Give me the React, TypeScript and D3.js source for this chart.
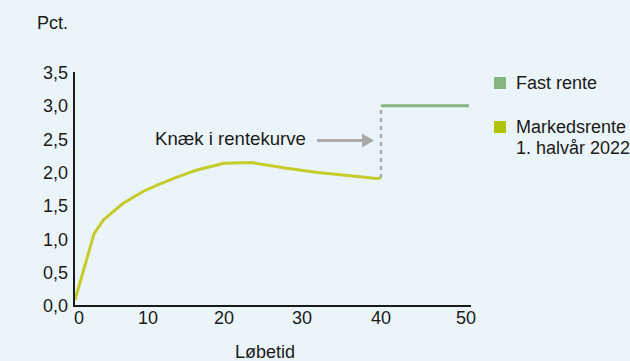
import React from "react";
import * as d3 from "d3";

// Markedsrente (yield curve), maturity in years -> percent
const maturities = [0, 2.6, 3.9, 6.6, 9.4, 11.6, 14, 16.2, 20, 23.5, 27.8, 32, 36.4, 39.4, 40];
const marketRates = [0.09, 1.08, 1.29, 1.54, 1.72, 1.83, 1.94, 2.03, 2.14, 2.15, 2.07, 2.0, 1.95, 1.91, 1.92];

// Fast rente beyond the kink
const fixedMaturities = [40, 50];
const fixedRates = [3.0, 3.0];

const xTicks = [0, 10, 20, 30, 40, 50];
const yTicks = [0, 0.5, 1, 1.5, 2, 2.5, 3, 3.5];

const legendItems = [
  { label: ["Fast rente"], color: "#86b57f" },
  { label: ["Markedsrente", "1. halvår 2022"], color: "#afc300" },
];

const W = 630;
const H = 361;
const FONT = "'Liberation Sans', Arial, sans-serif";

export default function App() {
  const x = d3
    .scaleLinear()
    .domain([0, 10, 20, 30, 40, 50])
    .range([75, 148, 224, 302, 381, 469]);
  const y = d3.scaleLinear().domain([0, 3.5]).range([306, 72.5]);

  const line = d3
    .line<[number, number]>()
    .x((d) => x(d[0]))
    .y((d) => y(d[1]));

  const marketPts = maturities.map((m, i) => [m, marketRates[i]] as [number, number]);
  const fixedPts = fixedMaturities.map((m, i) => [m, fixedRates[i]] as [number, number]);

  const kinkX = x(40);
  const axisLeft = 74;
  const axisRight = 471;
  const arrowY = 140.5;

  return (
    <svg
      width={W}
      height={H}
      style={{ position: "absolute", left: 0, top: 0, background: "#ebf4f8" }}
      fontFamily={FONT}
    >
      <rect width={W} height={H} fill="#ebf4f8" />
      <text x={37} y={23} dy="0.36em" fontSize={18} fill="#1a1a1a">Pct.</text>

      {/* y tick labels */}
      {yTicks.map((t) => (
        <text
          key={t}
          x={68}
          y={y(t)}
          dy="0.36em"
          textAnchor="end"
          fontSize={18}
          fill="#1a1a1a"
        >
          {d3.format(".1f")(t).replace(".", ",")}
        </text>
      ))}

      {/* x tick labels */}
      {xTicks.map((t, i) => (
        <text
          key={t}
          x={x(t) + (i === 0 ? 4 : i === 5 ? -3 : 0)}
          y={318}
          dy="0.36em"
          textAnchor="middle"
          fontSize={18}
          fill="#1a1a1a"
        >
          {t}
        </text>
      ))}
      <text x={265} y={352} dy="0.36em" textAnchor="middle" fontSize={18} fill="#1a1a1a">
        Løbetid
      </text>

      {/* series */}
      <path d={line(marketPts) ?? ""} fill="none" stroke="#c6cb2c" strokeWidth={3} strokeLinejoin="round" />
      <line
        x1={kinkX}
        x2={kinkX}
        y1={y(marketRates[marketRates.length - 1])}
        y2={y(fixedRates[0])}
        stroke="#aaaaaa"
        strokeWidth={2.5}
        strokeDasharray="4,4"
      />
      <path d={line(fixedPts) ?? ""} fill="none" stroke="#86b57f" strokeWidth={3} />

      {/* axes */}
      <line x1={axisLeft} x2={axisLeft} y1={72} y2={y(0)} stroke="#1a1a1a" strokeWidth={2} />
      <line x1={axisLeft - 1} x2={axisRight} y1={y(0)} y2={y(0)} stroke="#1a1a1a" strokeWidth={2} />

      {/* annotation */}
      <text x={155} y={arrowY - 2} dy="0.36em" fontSize={18.6} fill="#1a1a1a">Knæk i rentekurve</text>
      <line x1={317} x2={364} y1={arrowY} y2={arrowY} stroke="#aaaaaa" strokeWidth={3} />
      <path
        d={`M${362},${arrowY - 7}L${374},${arrowY}L${362},${arrowY + 7}Z`}
        fill="#aaaaaa"
      />

      {/* legend */}
      {legendItems.map((item, i) => {
        const top = 77 + i * 44;
        return (
          <g key={i}>
            <rect x={494} y={top} width={12} height={12} fill={item.color} />
            {item.label.map((l, j) => (
              <text key={j} x={516} y={top + 6 + j * 21} dy="0.36em" fontSize={18} fill="#1a1a1a">
                {l}
              </text>
            ))}
          </g>
        );
      })}
    </svg>
  );
}
